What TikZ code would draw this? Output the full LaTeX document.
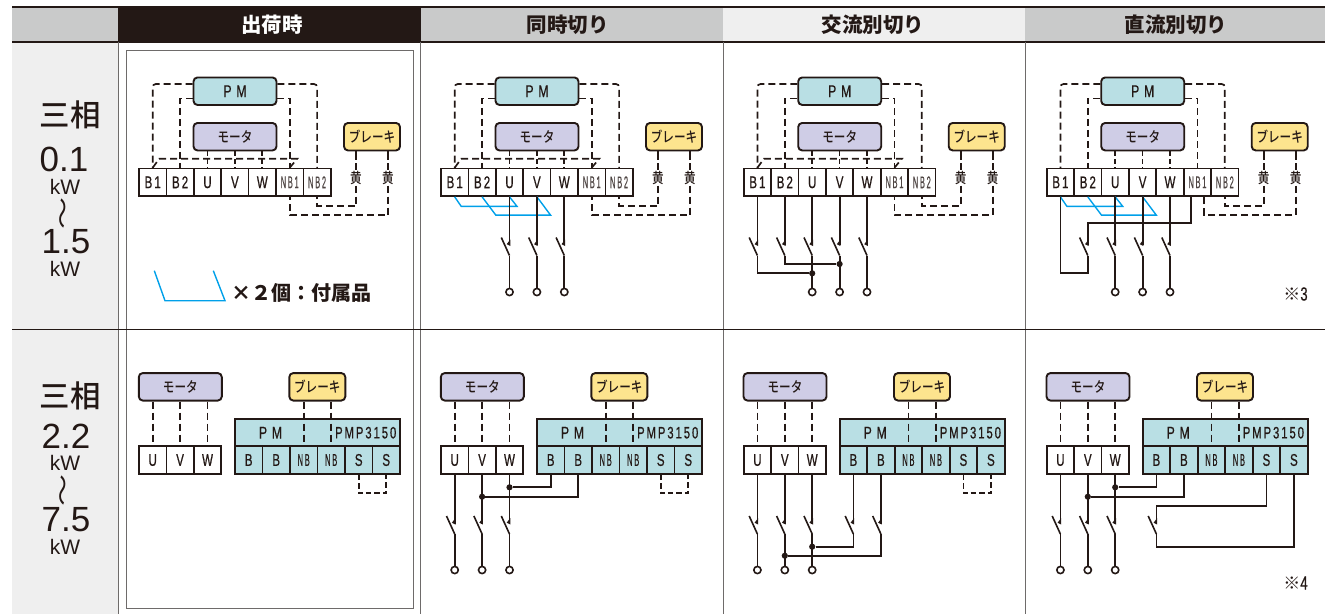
\documentclass[tikz,border=0pt]{standalone}
\usepackage{fontspec}
\setmainfont{Liberation Sans}
\newfontfamily\jpfont{Noto Sans CJK JP}
\newfontfamily\jpmed[UprightFont=* Medium]{Noto Sans CJK JP}
\newfontfamily\jpnarrow[FakeStretch=0.8,UprightFont=* Medium]{Noto Sans CJK JP}
\newfontfamily\cellfont[FakeStretch=0.68,LetterSpace=12,FakeBold=0.6]{Liberation Sans}
\newfontfamily\pmfont[FakeStretch=0.72,LetterSpace=28,FakeBold=0.6]{Liberation Sans}
\newfontfamily\nbfont[FakeStretch=0.44,LetterSpace=10,FakeBold=0.4]{Liberation Sans}
\usetikzlibrary{calc}
\definecolor{ink}{HTML}{231815}
\definecolor{pmteal}{HTML}{B9DFE4}
\definecolor{motorlilac}{HTML}{CFCDE6}
\definecolor{brakeyellow}{HTML}{FDE48E}
\definecolor{headgrey}{HTML}{C9CACA}
\definecolor{palegrey}{HTML}{EFEFEF}
\definecolor{rulegrey}{HTML}{6E6B6A}
\definecolor{jumpblue}{HTML}{00A0E9}
\tikzset{knifesw/.pic={
    \coordinate (-in) at (0,-5);
    \coordinate (-out) at (0,5.5);
    \draw[line width=1.6pt,draw=ink] (-out) -- (-8.2,-12.5);
    \fill[ink] (0.8,-4) -- (-2.8,-5.8) -- (0.8,-10.5) -- cycle;
  }}
\begin{document}
\begin{tikzpicture}[x=1pt,y=-1pt]
  \tikzstyle{wire}=[line width=1.8pt,draw=ink]
  \tikzstyle{dashwire}=[line width=1.7pt,draw=ink,dash pattern=on 7pt off 4pt]
  \tikzstyle{jump}=[line width=1.4pt,draw=jumpblue,line join=miter]
  \tikzstyle{namebox}=[rectangle,rounded corners=4pt,draw=ink,line width=1.9pt,minimum height=27.5pt,inner sep=0pt,text=ink]
  \tikzstyle{pmbox}=[namebox,fill=pmteal,minimum width=83pt,font=\pmfont\fontsize{17}{17}\selectfont]
  \tikzstyle{motorbox}=[namebox,fill=motorlilac,minimum width=83pt,font=\jpnarrow\fontsize{14.5}{15}\selectfont]
  \tikzstyle{brakebox}=[namebox,fill=brakeyellow,minimum width=56pt,font=\jpnarrow\fontsize{14.5}{15}\selectfont]
  \tikzstyle{cell}=[rectangle,draw=ink,line width=1.7pt,fill=white,minimum width=27.4pt,minimum height=27.4pt,inner sep=0pt,text=ink,font=\cellfont\fontsize{17}{17}\selectfont]
  \tikzstyle{tealcell}=[cell,fill=pmteal]
  \tikzstyle{term}=[circle,draw=ink,line width=1.6pt,fill=white,minimum size=7.2pt,inner sep=0pt]
  \tikzstyle{junction}=[circle,fill=ink,minimum size=6.2pt,inner sep=0pt]
  \tikzstyle{yellowtag}=[fill=white,inner sep=0.6pt,text=ink,font=\jpnarrow\fontsize{14.5}{15}\selectfont]
  \tikzstyle{headtext}=[text=ink,font=\jpfont\bfseries\fontsize{20.5}{21}\selectfont]
  \tikzstyle{phase}=[text=ink,font=\jpmed\fontsize{30.5}{31}\selectfont]
  \tikzstyle{rating}=[text=ink,font=\fontsize{35}{35}\selectfont]
  \tikzstyle{unit}=[text=ink,font=\fontsize{21}{21}\selectfont]
  \tikzstyle{wave}=[text=ink,transform shape,rotate=90,yscale=0.72,font=\jpfont\fontsize{32}{32}\selectfont]
  \tikzstyle{note}=[text=ink,font=\cellfont\fontsize{19}{19}\selectfont]
  \useasboundingbox (0,0) rectangle (1325,614);

  \fill[palegrey] (12,42) rectangle (118,614);
  \fill[headgrey] (12,7) rectangle (118,42);
  \fill[ink] (118,7) rectangle (420.5,42);
  \fill[headgrey] (420.5,7) rectangle (723,42);
  \fill[palegrey] (723,7) rectangle (1025,42);
  \fill[headgrey] (1025,7) rectangle (1325,42);
  \draw[ink,line width=1.2pt] (12,7) -- (1325,7);
  \draw[ink,line width=2.4pt] (12,42) -- (1325,42);
  \draw[rulegrey,line width=1pt] (118.5,42) -- (118.5,614);
  \draw[rulegrey,line width=1pt] (420.5,42) -- (420.5,614);
  \draw[rulegrey,line width=1pt] (723,42) -- (723,614);
  \draw[rulegrey,line width=1pt] (1025.5,42) -- (1025.5,614);
  \draw[rulegrey,line width=0.9pt] (126,50) rectangle (413,608);
  \draw[ink,line width=1pt] (12,329) -- (1325,329);

  \node[headtext,text=white] (head1) at (272,24.5) {出荷時};
  \node[headtext] (head2) at (567.5,24.5) {同時切り};
  \node[headtext] (head3) at (873,24.5) {交流別切り};
  \node[headtext] (head4) at (1176,24.5) {直流別切り};

  \node[phase] (ph1) at (70,115) {三相};
  \node[rating] (r1) at (64,159) {0.1};
  \node[unit] (u1) at (65,187) {kW};
  \node[wave] (w1) at (66,213) {〜};
  \node[rating] (r2) at (66,242) {1.5};
  \node[unit] (u2) at (65,269) {kW};
  \node[phase] (ph2) at (70,396) {三相};
  \node[rating] (r3) at (66,436) {2.2};
  \node[unit] (u3) at (65,463) {kW};
  \node[wave] (w2) at (66,490) {〜};
  \node[rating] (r4) at (66,520) {7.5};
  \node[unit] (u4) at (65,547) {kW};

  \foreach \p/\dx/\off in {a/0/0,b/302/0,c/604.7/0,d/907.7/6.7} {
    \begin{scope}[xshift=\dx pt]
      \node[pmbox] (\p pm) at (235,91.2) {PM};
      \node[motorbox] (\p mot) at (235,136.7) {モータ};
      \node[brakebox] (\p brk) at (372,136.7) {ブレーキ};
      \foreach \i/\x/\lab in {1/152.7/B1,2/180.1/B2,3/207.5/U,4/234.9/V,5/262.3/W,
        6/289.7/{\nbfont\color{ink!80} NB1},7/317.1/{\nbfont\color{ink!80} NB2}}
        \node[cell] (\p\i) at (\x,182.3) {\lab};
      \node[yellowtag] (\p y1) at (356,178) {黄};
      \node[yellowtag] (\p y2) at (388,178) {黄};
    \end{scope}
    \draw[dashwire,rounded corners=3pt] ([yshift=7.15pt]\p pm.west) -| (\p1.north);
    \draw[dashwire] ([yshift=-7.15pt]\p pm.west) -| (\p2.north);
    \draw[dashwire,rounded corners=3pt] ([yshift=7.15pt]\p pm.east) -| (\p7.north);
    \draw[dashwire] ([yshift=-7.15pt]\p pm.east) -| (\p6.north);
    \foreach \i in {3,4,5}
      \draw[dashwire,dash pattern=on 5pt off 3pt] (\p mot.south -| \p\i.north) -- (\p\i.north);
    \draw[dashwire,dash pattern=on 9pt off 3pt] (\p brk.south -| \p y1.north) -- (\p y1.north);
    \draw[dashwire,dash pattern=on 9pt off 3pt] (\p brk.south -| \p y2.north) -- (\p y2.north);
    \draw[dashwire] (\p y1.south) |- ([yshift=-9.2pt]\p7.south) -- (\p7.south);
    \draw[dashwire] (\p y2.south) |- ([xshift=\off pt,yshift=-18.2pt]\p6.south) -- ([xshift=\off pt]\p6.south);
  }
  \foreach \p in {a,b,c}
    \draw[dashwire] (\p1.north) -- ++(6.5,-9) -- ($(\p6.north)+(7.5,-9)$) -- (\p6.north);

  \foreach \p in {b,d} {
    \draw[jump] (\p1.south) -- ++(6.5,9.5) -- ($(\p3.south)+(7.5,9.5)$) -- (\p3.south);
    \draw[jump] (\p2.south) -- ++(13.7,18.3) -- ($(\p4.south)+(13.7,18.3)$) -- (\p4.south);
  }
  \draw[jump] (154.3,270.7) -- (165,300.7) -- (225,300.7) -- (213.3,270.7);
  \node[text=ink,anchor=west,inner sep=0pt,font=\jpfont\bfseries\fontsize{20}{20}\selectfont] (parts) at (231,292.5) {×２個：付属品};

  \foreach \p/\dx in {b/302,c/604.7,d/907.7}
    \foreach \i/\x in {3/207.5,4/234.9,5/262.3} {
      \pic[xshift=\dx pt] (\p s\i) at (\x,250) {knifesw};
      \node[term,xshift=\dx pt] (\p t\i) at (\x,292) {};
      \draw[wire] (\p\i.south) -- (\p s\i-in);
      \draw[wire] (\p s\i-out) -- (\p t\i.north);
    }

  \pic (cs1) at (757.4,250) {knifesw};
  \pic (cs2) at (784.8,250) {knifesw};
  \node[junction] (cd3) at (812.2,273.3) {};
  \node[junction] (cd4) at (839.6,264) {};
  \draw[wire] (c1.south) -- (cs1-in);
  \draw[wire] (c2.south) -- (cs2-in);
  \draw[wire] (cs1-out) |- (cd3);
  \draw[wire] (cs2-out) |- (cd4);

  \pic (ds2) at (1087.8,250) {knifesw};
  \coordinate (dk1) at (1087.8,273.3);
  \coordinate (dk2) at (1087.8,223.3);
  \draw[wire] (d1.south) |- (dk1) -- (ds2-out);
  \draw[wire] (ds2-in) -- (dk2) -| ([xshift=-6.7pt]d6.south);
  \node[note] (note3) at (1295.5,294) {{\jpfont\fontsize{17}{17}\selectfont ※}3};

  \foreach \p/\dx in {e/0,f/302,g/604.7,h/907.7} {
    \begin{scope}[xshift=\dx pt]
      \node[motorbox] (\p mot) at (180.3,386.8) {モータ};
      \node[brakebox] (\p brk) at (317.3,386.8) {ブレーキ};
      \node[cell] (\p u) at (152.7,460) {U};
      \node[cell] (\p v) at (180.1,460) {V};
      \node[cell] (\p w) at (207.5,460) {W};
      \node[tealcell,minimum width=165pt] (\p pm) at (317.5,432.7) {};
      \node[text=ink,font=\pmfont\fontsize{17}{17}\selectfont] (\p pml) at (270.5,432.7) {PM};
      \node[text=ink,font=\cellfont\fontsize{16.5}{17}\selectfont] (\p pmp) at (365.7,432.7) {PMP3150};
      \foreach \n/\x/\lab in {b1/248.7/B,b2/276.2/B,n1/303.7/{\nbfont\fontsize{17}{17}\selectfont NB},
        n2/331.2/{\nbfont\fontsize{17}{17}\selectfont NB},s1/358.7/S,s2/386.2/S}
        \node[tealcell,minimum width=27.5pt] (\p\n) at (\x,460) {\lab};
    \end{scope}
    \foreach \i in {u,v,w}
      \draw[dashwire] (\p mot.south -| \p\i.north) -- (\p\i.north);
    \draw[dashwire] (\p brk.south -| \p n1.north) -- (\p n1.north);
    \draw[dashwire] (\p brk.south -| \p n2.north) -- (\p n2.north);
  }
  \foreach \p in {e,f,g}
    \draw[dashwire,dash pattern=on 5.5pt off 3pt] (\p s1.south) -- ++(0,18.3) -| (\p s2.south);

  \foreach \p/\dx in {f/302,g/604.7,h/907.7}
    \foreach \i/\x in {u/152.7,v/180.1,w/207.5} {
      \pic[xshift=\dx pt] (\p s\i) at (\x,528.5) {knifesw};
      \node[term,xshift=\dx pt] (\p t\i) at (\x,570) {};
      \draw[wire] (\p\i.south) -- (\p s\i-in);
      \draw[wire] (\p s\i-out) -- (\p t\i.north);
    }

  \foreach \p/\x in {f/509.5,h/1115.2} {
    \node[junction] (\p dw) at (\x,487.3) {};
    \node[junction] (\p dv) at ($(\x,496.7)+(-27.4,0)$) {};
    \draw[wire] (\p dw) -| (\p b1.south);
    \draw[wire] (\p dv) -| (\p b2.south);
  }

  \pic (gsb1) at (853.4,528.5) {knifesw};
  \pic (gsb2) at (880.9,528.5) {knifesw};
  \node[junction] (gdw) at (812.2,546.7) {};
  \node[junction] (gdv) at (784.8,555.7) {};
  \draw[wire] (gb1.south) -- (gsb1-in);
  \draw[wire] (gb2.south) -- (gsb2-in);
  \draw[wire] (gsb1-out) |- (gdw);
  \draw[wire] (gsb2-out) |- (gdv);

  \pic (hsk) at (1156.4,528.5) {knifesw};
  \coordinate (hk1) at (1156.4,505.7);
  \coordinate (hk2) at (1156.4,546.7);
  \draw[wire] (hs1.south) |- (hk1) -- (hsk-in);
  \draw[wire] (hsk-out) -- (hk2) -| (hs2.south);
  \node[note] (note4) at (1295.5,583) {{\jpfont\fontsize{17}{17}\selectfont ※}4};
\end{tikzpicture}
\end{document}
